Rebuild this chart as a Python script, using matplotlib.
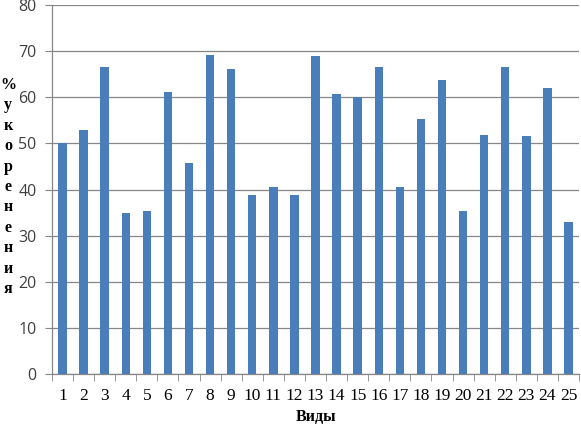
import matplotlib
matplotlib.use("Agg")
import matplotlib.pyplot as plt
import numpy as np

categories = [str(i) for i in range(1, 26)]
values = [50.0, 53.0, 66.6, 35.0, 35.3, 61.2, 45.8, 69.1, 66.1, 38.9,
          40.5, 38.7, 68.9, 60.8, 60.0, 66.6, 40.6, 55.3, 63.8, 35.3,
          51.9, 66.6, 51.6, 62.1, 32.9]
y_ticks = [0, 10, 20, 30, 40, 50, 60, 70, 80]
x_title = "Виды"
y_title = "% укоренения"

fig = plt.figure(figsize=(5.81, 4.25), dpi=100)
ax = fig.add_axes([52/581, 51/425, 527/581, 369/425])

x = np.arange(len(categories))
ax.bar(x, values, width=0.4, color="#4a7ebb", zorder=3)

ax.set_xlim(-0.5, len(categories) - 0.5)
ax.set_ylim(0, 80)
ax.set_yticks(y_ticks)
ax.set_yticklabels([str(t) for t in y_ticks], fontsize=11.5, family="Open Sans", color="#404040")
ax.set_xticks(x)
ax.set_xticklabels(categories, fontsize=12.5, family="Liberation Serif")
ax.set_xticks(np.arange(-0.5, len(categories)), minor=True)
ax.tick_params(axis="x", which="major", length=0, pad=10)
ax.tick_params(axis="x", which="minor", length=5, color="#868686", direction="out")
ax.tick_params(axis="y", which="major", length=5, color="#868686", pad=6)

ax.grid(axis="y", color="#868686", linewidth=0.9, zorder=0)
for s in ["top", "right"]:
    ax.spines[s].set_visible(False)
for s in ["left", "bottom"]:
    ax.spines[s].set_color("#868686")
    ax.spines[s].set_linewidth(0.9)

fig.text(316/581, 1 - 417/425, x_title, ha="center", va="center",
         fontsize=11.5, fontweight="bold", family="Liberation Serif")

letters = [c for c in y_title if c != " "]
y0, y1 = 85, 289
for i, ch in enumerate(letters):
    yy = y0 + (y1 - y0) * i / (len(letters) - 1)
    fig.text(8/581, 1 - yy/425, ch, ha="center", va="center",
             fontsize=11.5, fontweight="bold", family="Liberation Serif")

fig.savefig("out.png", dpi=100)
